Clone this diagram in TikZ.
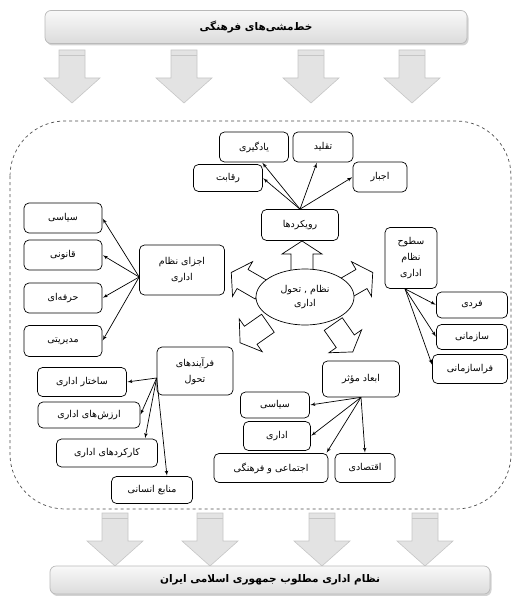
\documentclass[tikz,border=0pt]{standalone}
\usepackage{fontspec}
\newfontfamily\arabicfont[Script=Arabic]{DejaVu Sans}
\TeXXeTstate=1
\usetikzlibrary{arrows,shadows,shapes.geometric}
\newcommand{\fa}[1]{\beginR #1\endR}
\tikzset{
  flowdown/.pic={
    \draw[-,fill=gray!22,draw=gray!45,line width=0.6pt] (-13,0) -- (13,0) -- (13,28) -- (28,28) -- (0,53) -- (-28,28) -- (-13,28) -- cycle;
    \draw[-,gray!45,line width=0.6pt] (-13,5) -- (13,5);},
  shiftarrow/.pic={
    \draw[-,fill=white,line width=0.7pt] (-17,-11) -- (4,-11) -- (4,-20) -- (17,0) -- (4,20) -- (4,11) -- (-17,11) -- cycle;}
}

\begin{document}
\begin{tikzpicture}[x=1pt,y=-1pt,->,>=latex',shorten >=0.5pt,line width=0.7pt,
    font=\arabicfont\fontsize{9.5}{16}\selectfont]
  \tikzstyle{box}=[draw,fill=white,rounded corners=5pt,align=center,inner sep=2pt]
  \tikzstyle{banner}=[draw=gray!55,rounded corners=6pt,top color=gray!5,bottom color=gray!28,
    drop shadow={shadow xshift=1.5pt,shadow yshift=-2pt,opacity=.35},
    font=\arabicfont\bfseries\fontsize{10.5}{12}\selectfont]
  \useasboundingbox (0,0) rectangle (513,596);
  \clip (0,0) rectangle (513,596);

  % policies in, desired system out
  \node[banner,minimum width=422pt,minimum height=33pt] (policy) at (256,27) {\fa{خط‌مشی‌های فرهنگی}};
  \foreach \x in {72,184,311,412} \pic at (\x,50) {flowdown};
  \draw[-,dashed,gray!60!black,rounded corners=55pt] (10,121) rectangle (511,509);
  \foreach \x in {115,210,322,425} \pic at (\x,513) {flowdown};
  \node[banner,minimum width=440pt,minimum height=28pt] (goal) at (270,580) {\fa{نظام اداری مطلوب جمهوری اسلامی ایران}};

  % block arrows round the core
  \pic[rotate=90]  at (302,258) {shiftarrow};
  \pic[rotate=150] at (246,281) {shiftarrow};
  \pic[rotate=30]  at (358,281) {shiftarrow};
  \pic[rotate=215] at (254,333) {shiftarrow};
  \pic[rotate=-55] at (343,338) {shiftarrow};
  \node[draw,ellipse,fill=white,align=center,minimum width=98pt,minimum height=56pt,
        font=\arabicfont\fontsize{9.5}{14}\selectfont] (core) at (305,297) {\fa{نظام , تحول}\\\fa{اداری}};

  \node[box,minimum width=77pt,minimum height=31pt]  (ravik)     at (300,225) {\fa{رویکردها}};
  \node[box,minimum width=69pt,minimum height=27pt]  (raghabat)  at (228,178) {\fa{رقابت}};
  \node[box,minimum width=69pt,minimum height=30pt]  (yadgiri)   at (254,147) {\fa{یادگیری}};
  \node[box,minimum width=60pt,minimum height=30pt]  (taghlid)   at (323,147) {\fa{تقلید}};
  \node[box,minimum width=54pt,minimum height=30pt]  (ejbar)     at (380,177) {\fa{اجبار}};

  \node[box,minimum width=85pt,minimum height=50pt]  (ajza)      at (182,270) {\fa{اجزای نظام}\\\fa{اداری}};
  \node[box,minimum width=78pt,minimum height=30pt]  (siasat)    at (63,218)  {\fa{سیاسی}};
  \node[box,minimum width=78pt,minimum height=30pt]  (ghanooni)  at (63,255)  {\fa{قانونی}};
  \node[box,minimum width=78pt,minimum height=30pt]  (herfei)    at (63,298)  {\fa{حرفه‌ای}};
  \node[box,minimum width=78pt,minimum height=31pt]  (modiriati) at (63,341)  {\fa{مدیریتی}};

  \node[box,minimum width=52pt,minimum height=61pt]  (sotuh)     at (411,258) {\fa{سطوح}\\\fa{نظام}\\\fa{اداری}};
  \node[box,minimum width=71pt,minimum height=26pt]  (fardi)     at (472,305) {\fa{فردی}};
  \node[box,minimum width=71pt,minimum height=25pt]  (sazmani)   at (472,337) {\fa{سازمانی}};
  \node[box,minimum width=75pt,minimum height=29pt]  (farasaz)   at (470,369) {\fa{فراسازمانی}};

  \node[box,minimum width=76pt,minimum height=48pt]  (farayand)  at (195,371) {\fa{فرآیندهای}\\\fa{تحول}};
  \node[box,minimum width=89pt,minimum height=29pt]  (sakhtar)   at (82,382)  {\fa{ساختار اداری}};
  \node[box,minimum width=102pt,minimum height=26pt] (arzesh)    at (89,415)  {\fa{ارزش‌های اداری}};
  \node[box,minimum width=101pt,minimum height=28pt] (karkard)   at (107,453) {\fa{کارکردهای اداری}};
  \node[box,minimum width=81pt,minimum height=27pt]  (manabe)    at (152,490) {\fa{منابع انسانی}};

  \node[box,minimum width=77pt,minimum height=36pt]  (abad)      at (361,379) {\fa{ابعاد مؤثر}};
  \node[box,minimum width=69pt,minimum height=26pt]  (siasi)     at (275,405) {\fa{سیاسی}};
  \node[box,minimum width=67pt,minimum height=29pt]  (edari)     at (277,436) {\fa{اداری}};
  \node[box,minimum width=114pt,minimum height=29pt] (ejtemai)   at (271,468) {\fa{اجتماعی و فرهنگی}};
  \node[box,minimum width=60pt,minimum height=29pt]  (eghtesadi) at (365,468) {\fa{اقتصادی}};

  \path (ravik.north) edge (raghabat.east)
                      edge ([xshift=8pt]yadgiri.south)
                      edge ([xshift=-6pt]taghlid.south)
                      edge (ejbar.west)
        ([yshift=-7pt]ajza.west) edge (siasat.east)
                                 edge (ghanooni.east)
                                 edge (herfei.east)
                                 edge (modiriati.east)
        ([xshift=-6pt]sotuh.south) edge (fardi.west)
                                   edge (sazmani.west)
                                   edge ([yshift=4pt]farasaz.west)
        ([yshift=-7pt]farayand.west) edge (sakhtar.east)
                                     edge (arzesh.east)
                                     edge ([xshift=38pt]karkard.north)
                                     edge ([xshift=15pt]manabe.north)
        (abad.south) edge (siasi.east)
                     edge (edari.east)
                     edge ([xshift=-2pt]ejtemai.north east)
                     edge (eghtesadi.north);
\end{tikzpicture}
\end{document}
